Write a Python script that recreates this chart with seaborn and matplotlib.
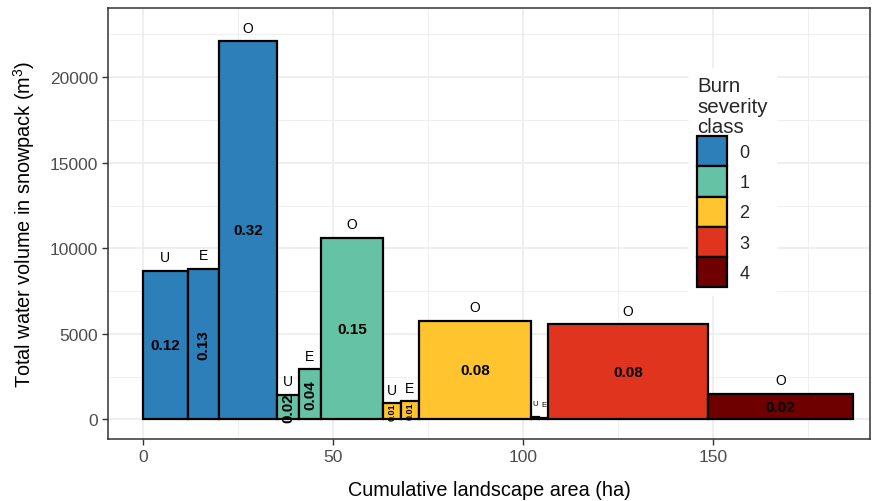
import numpy as np
import pandas as pd
import matplotlib
matplotlib.use("Agg")
import matplotlib.pyplot as plt
from matplotlib.patches import Patch
import seaborn as sns

# ---- data ----
burn_class = [0, 0, 0, 1, 1, 1, 2, 2, 2, 3, 3, 3, 4]
aspect_type = ["U", "E", "O", "U", "E", "O", "U", "E", "O", "U", "E", "O", "O"]
area_ha = [11.8, 8.2, 15.3, 5.8, 5.7, 16.4, 4.7, 4.7, 29.5, 2.1, 2.4, 42.1, 38.1]
water_m3 = [8700, 8800, 22100, 1450, 2930, 10600, 930, 1050, 5770, 150, 80, 5550, 1500]
prop_labels = ["0.12", "0.13", "0.32", "0.02", "0.04", "0.15", "0.01", "0.01",
               "0.08", "", "", "0.08", "0.02"]
class_levels = [0, 1, 2, 3, 4]
class_colors = ["#2C7FB8", "#66C2A5", "#FFC42E", "#E0341F", "#6E0000"]

sns.set_theme(style="white")
plt.rcParams["font.family"] = ["Liberation Sans", "DejaVu Sans"]
plt.rcParams["mathtext.fontset"] = "custom"
plt.rcParams["mathtext.rm"] = "Liberation Sans"
plt.rcParams["mathtext.default"] = "regular"

W, H = 877, 502
fig = plt.figure(figsize=(W / 100, H / 100), dpi=100)
ax = fig.add_axes([108 / W, 1 - 440 / H, (870 - 108) / W, (440 - 9) / H])

widths = np.array(area_ha)
right_edges = np.cumsum(widths)
left_edges = right_edges - widths
mids = left_edges + widths / 2
df = pd.DataFrame({"cls": burn_class, "mid": mids, "vol": water_m3,
                   "left": left_edges, "right": right_edges})

for lvl, col in zip(class_levels, class_colors):
    sub = df[df["cls"] == lvl]
    edges = [float(sub["left"].iloc[0])] + [float(r) for r in sub["right"]]
    sns.histplot(data=sub, x="mid", weights="vol", bins=edges, ax=ax, color=col,
                 alpha=1, edgecolor="black", linewidth=1.6, element="bars",
                 fill=True, stat="count", shrink=1, zorder=3)

# labels above bars and proportions inside
for x, v, w, a, p in zip(mids, water_m3, widths, aspect_type, prop_labels):
    fs = 5.5 if w < 3 else 10
    ax.text(x, v + 800, a, ha="center", va="center", fontsize=fs,
            color="black", zorder=5)
    if p:
        rot = 90 if w < 10 else 0
        pfs = 6.5 if w < 5 else 11
        ax.text(x, v / 2, p, ha="center", va="center", fontsize=pfs,
                fontweight="bold", rotation=rot, color="black", zorder=5)

ax.set_xlim(-9.2, 191.3)
ax.set_ylim(-1145, 24045)
ax.set_xticks([0, 50, 100, 150])
ax.set_xticks([25, 75, 125, 175], minor=True)
ax.set_yticks([0, 5000, 10000, 15000, 20000])
ax.set_yticks(np.arange(2500, 24000, 5000), minor=True)
ax.grid(True, which="major", color="#EBEBEB", linewidth=1.1, zorder=0)
ax.grid(True, which="minor", color="#EBEBEB", linewidth=0.55, zorder=0)
ax.set_axisbelow(True)
ax.tick_params(which="major", length=4, width=1, color="#333333",
               labelsize=12.5, labelcolor="#4D4D4D", pad=3,
               bottom=True, left=True)
ax.tick_params(which="minor", length=0)
for s in ax.spines.values():
    s.set_color("#333333")
    s.set_linewidth(1.1)
    s.set_zorder(6)

ax.set_xlabel("Cumulative landscape area (ha)", fontsize=14.3, labelpad=11.5,
              color="black")
ax.set_ylabel(r"Total water volume in snowpack (m$^{3}$)", fontsize=14.3,
              labelpad=9, color="black")

handles = [Patch(facecolor=c, edgecolor="black", linewidth=1.6) for c in class_colors]
leg = ax.legend(handles, [str(c) for c in class_levels],
                title="Burn\nseverity\nclass", loc="upper left",
                bbox_to_anchor=(680 / W, 1 - 60 / H), bbox_transform=fig.transFigure,
                frameon=True, fancybox=False, framealpha=1, edgecolor="white",
                facecolor="white", fontsize=13, title_fontsize=14.8,
                handlelength=1.65, handleheight=2.2, labelspacing=0,
                handletextpad=0.7, borderpad=0.45, alignment="left")
leg.set_zorder(7)
leg.get_title().set_linespacing(1.1)

fig.savefig("out.png", dpi=100)
